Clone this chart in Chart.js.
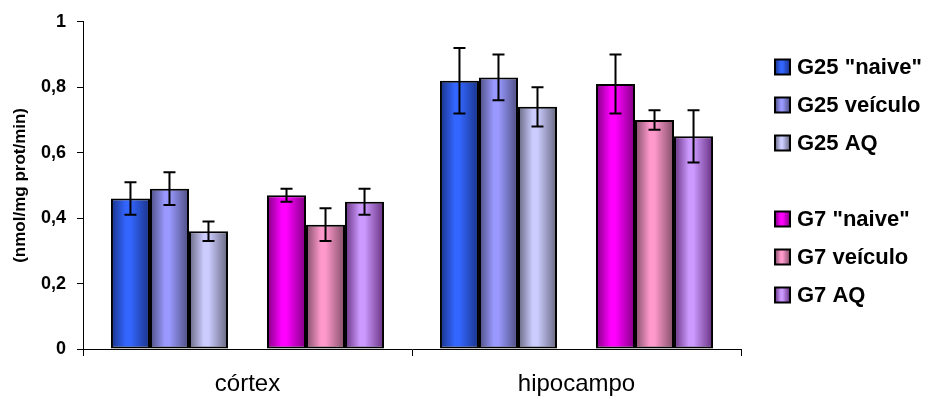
<!DOCTYPE html>
<html>
<head>
<meta charset="utf-8">
<script src="https://cdn.jsdelivr.net/npm/chart.js@4/dist/chart.umd.min.js"></script>
<style>
  html, body { margin: 0; padding: 0; background: #fff; }
  #wrap { width: 926px; height: 398px; }
</style>
</head>
<body>
<div id="wrap"><canvas id="myChart"></canvas></div>
<script>
// data
const categories = ['córtex', 'hipocampo'];
const seriesNames = ['G25 "naive"', 'G25 veículo', 'G25 AQ', '', 'G7 "naive"', 'G7 veículo', 'G7 AQ'];

const g25Naive = [0.46, 0.82];
const g25Veiculo = [0.49, 0.83];
const g25AQ = [0.36, 0.74];
const g7Naive = [0.47, 0.81];
const g7Veiculo = [0.38, 0.70];
const g7AQ = [0.45, 0.65];

const g25NaiveErr = [0.05, 0.10];
const g25VeiculoErr = [0.05, 0.07];
const g25AQErr = [0.03, 0.06];
const g7NaiveErr = [0.02, 0.09];
const g7VeiculoErr = [0.05, 0.03];
const g7AQErr = [0.04, 0.08];

const yTicks = [0, 0.2, 0.4, 0.6, 0.8, 1];

// [dark edge, bright centre] per series
const barColors = [
    ['#1a3388', '#3366ff'],
    ['#4d4d80', '#9999ff'],
    ['#666680', '#ccccff'],
    ['#ffffff', '#ffffff'],
    ['#800080', '#ff00ff'],
    ['#804d66', '#ff99cc'],
    ['#66307f', '#cc99ff']
];

const FONT = '"Liberation Sans", Arial, sans-serif';
const CAT_PCT = 0.83;
const SLOTS = seriesNames.length;

function makeGradient(c, left, width, cols) {
    const g = c.createLinearGradient(left, 0, left + width, 0);
    g.addColorStop(0, cols[0]);
    g.addColorStop(0.38, cols[1]);
    g.addColorStop(0.5, cols[1]);
    g.addColorStop(1, cols[0]);
    return g;
}

function barFill(context) {
    const cols = barColors[context.datasetIndex];
    const chart = context.chart;
    const x = chart.scales.x;
    if (!x || context.type !== 'data' || !x.width) return cols[1];
    const catW = x.width / categories.length;
    const slot = catW * CAT_PCT / SLOTS;
    const left = x.getPixelForValue(context.dataIndex) - (SLOTS / 2) * slot + context.datasetIndex * slot;
    return makeGradient(chart.ctx, left, slot, cols);
}

const values = [g25Naive, g25Veiculo, g25AQ, [null, null], g7Naive, g7Veiculo, g7AQ];
const errors = [g25NaiveErr, g25VeiculoErr, g25AQErr, null, g7NaiveErr, g7VeiculoErr, g7AQErr];

const datasets = values.map((data, i) => ({
    label: seriesNames[i],
    data: data,
    errors: errors[i],
    backgroundColor: barFill,
    borderColor: '#000',
    borderWidth: 2,
    borderSkipped: false,
    categoryPercentage: CAT_PCT,
    barPercentage: 1
}));

// error bars drawn on top of the bars
const errorBars = {
    id: 'errorBars',
    afterDatasetsDraw(chart) {
        const c = chart.ctx;
        const y = chart.scales.y;
        c.save();
        c.strokeStyle = '#000';
        c.lineWidth = 2;
        chart.data.datasets.forEach((ds, di) => {
            if (!ds.errors) return;
            const meta = chart.getDatasetMeta(di);
            meta.data.forEach((bar, i) => {
                const v = ds.data[i];
                const e = ds.errors[i];
                const top = y.getPixelForValue(v + e);
                const bot = y.getPixelForValue(v - e);
                c.beginPath();
                c.moveTo(bar.x, top);
                c.lineTo(bar.x, bot);
                c.moveTo(bar.x - 6, top);
                c.lineTo(bar.x + 6, top);
                c.moveTo(bar.x - 6, bot);
                c.lineTo(bar.x + 6, bot);
                c.stroke();
            });
        });
        c.restore();
    }
};

// legend on the right, the empty spacer series keeps the gap
const sideLegend = {
    id: 'sideLegend',
    afterDraw(chart) {
        const c = chart.ctx;
        const boxX = 775, textX = 797, firstY = 67, step = 38, box = 15;
        c.save();
        c.font = 'bold 22px ' + FONT;
        c.textBaseline = 'middle';
        chart.data.datasets.forEach((ds, i) => {
            if (!ds.label) return;
            const cy = firstY + i * step;
            c.fillStyle = makeGradient(c, boxX, box, barColors[i]);
            c.fillRect(boxX, cy - box / 2, box, box);
            c.lineWidth = 2;
            c.strokeStyle = '#000';
            c.strokeRect(boxX, cy - box / 2, box, box);
            c.fillStyle = '#000';
            c.fillText(ds.label, textX, cy + 1);
        });
        c.restore();
    }
};

new Chart('myChart', {
    type: 'bar',
    data: {
        labels: categories,
        datasets: datasets
    },
    options: {
        responsive: true,
        maintainAspectRatio: false,
        animation: false,
        layout: {
            padding: { top: 10, right: 185, left: 10, bottom: 0 }
        },
        plugins: {
            legend: { display: false },
            tooltip: { enabled: false }
        },
        scales: {
            x: {
                afterFit: (scale) => {
                    scale.height = 49;
                },
                grid: {
                    offset: true,
                    drawOnChartArea: false,
                    drawTicks: true,
                    tickLength: 7,
                    color: '#000'
                },
                border: { display: true, color: '#000', width: 1 },
                ticks: {
                    color: '#000',
                    padding: 14,
                    font: { family: FONT, size: 24 }
                }
            },
            y: {
                min: 0,
                max: 1,
                afterBuildTicks: (scale) => {
                    scale.ticks = yTicks.map(v => ({ value: v }));
                },
                afterFit: (scale) => {
                    scale.width = 73;
                },
                grid: {
                    drawOnChartArea: false,
                    drawTicks: true,
                    tickLength: 6,
                    color: '#000'
                },
                border: { display: true, color: '#000', width: 1 },
                ticks: {
                    color: '#000',
                    padding: 11,
                    font: { family: FONT, size: 18, weight: 'bold' },
                    callback: (v) => String(v).replace('.', ',')
                },
                title: {
                    display: true,
                    text: '(nmol/mg prot/min)',
                    color: '#000',
                    padding: { top: 0, bottom: 0 },
                    font: { family: FONT, size: 17, weight: 'bold' }
                }
            }
        }
    },
    plugins: [errorBars, sideLegend]
});
</script>
</body>
</html>
